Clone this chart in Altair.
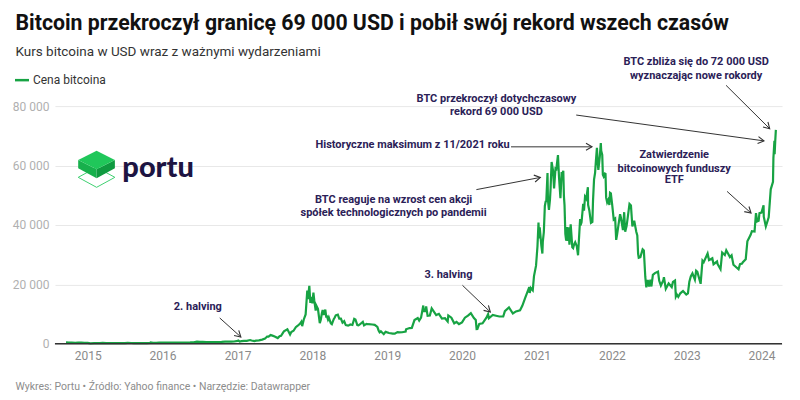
import math
import datetime as dt
import pandas as pd
import altair as alt

# ---------------- data ----------------
dates = [
    # 2014
    "2014-09-17", "2014-10-01", "2014-10-15", "2014-11-01", "2014-11-15", "2014-12-01", "2014-12-15",
    # 2015
    "2015-01-01", "2015-01-14", "2015-02-01", "2015-02-15", "2015-03-01", "2015-03-15", "2015-04-01",
    "2015-04-15", "2015-05-01", "2015-05-15", "2015-06-01", "2015-06-15", "2015-07-01", "2015-07-15",
    "2015-08-01", "2015-08-15", "2015-09-01", "2015-09-15", "2015-10-01", "2015-10-15", "2015-11-01",
    "2015-11-04", "2015-11-15", "2015-12-01", "2015-12-15",
    # 2016
    "2016-01-01", "2016-01-15", "2016-02-01", "2016-02-15", "2016-03-01", "2016-03-15", "2016-04-01",
    "2016-04-15", "2016-05-01", "2016-05-15", "2016-06-01", "2016-06-17", "2016-07-01", "2016-07-15",
    "2016-08-01", "2016-08-15", "2016-09-01", "2016-09-15", "2016-10-01", "2016-10-15", "2016-11-01",
    "2016-11-15", "2016-12-01", "2016-12-15",
    # 2017
    "2017-01-01", "2017-01-05", "2017-01-11", "2017-01-20", "2017-02-01", "2017-02-15", "2017-03-03",
    "2017-03-10", "2017-03-24", "2017-04-01", "2017-04-15", "2017-05-01", "2017-05-15", "2017-05-25",
    "2017-06-01", "2017-06-11", "2017-06-20", "2017-07-01", "2017-07-16", "2017-07-25", "2017-08-01",
    "2017-08-15", "2017-09-01", "2017-09-14", "2017-09-20", "2017-10-01", "2017-10-12", "2017-10-20",
    "2017-11-01", "2017-11-08", "2017-11-12", "2017-11-20", "2017-11-29", "2017-12-07", "2017-12-10",
    "2017-12-17", "2017-12-22", "2017-12-27",
    # 2018
    "2018-01-01", "2018-01-06", "2018-01-17", "2018-01-20", "2018-01-31", "2018-02-06", "2018-02-11",
    "2018-02-20", "2018-02-25", "2018-03-05", "2018-03-18", "2018-03-22", "2018-04-01", "2018-04-06",
    "2018-04-20", "2018-05-05", "2018-05-20", "2018-05-28", "2018-06-10", "2018-06-24", "2018-07-01",
    "2018-07-15", "2018-07-24", "2018-08-08", "2018-08-14", "2018-08-20", "2018-09-04", "2018-09-10",
    "2018-09-22", "2018-10-01", "2018-10-20", "2018-11-01", "2018-11-14", "2018-11-20", "2018-11-25",
    "2018-12-01", "2018-12-15", "2018-12-24",
    # 2019
    "2019-01-01", "2019-01-10", "2019-01-28", "2019-02-07", "2019-02-20", "2019-03-01", "2019-03-15",
    "2019-04-01", "2019-04-03", "2019-04-20", "2019-05-01", "2019-05-14", "2019-05-30", "2019-06-06",
    "2019-06-15", "2019-06-26", "2019-06-27", "2019-07-05", "2019-07-10", "2019-07-17", "2019-07-28",
    "2019-08-06", "2019-08-28", "2019-09-10", "2019-09-25", "2019-10-10", "2019-10-23", "2019-10-26",
    "2019-11-10", "2019-11-24", "2019-12-05", "2019-12-17",
    # 2020
    "2020-01-01", "2020-01-15", "2020-01-30", "2020-02-13", "2020-02-28", "2020-03-08", "2020-03-12",
    "2020-03-16", "2020-03-25", "2020-04-10", "2020-04-29", "2020-05-07", "2020-05-11", "2020-05-30",
    "2020-06-15", "2020-07-01", "2020-07-20", "2020-07-28", "2020-08-17", "2020-09-05", "2020-09-20",
    "2020-10-10", "2020-10-21", "2020-11-05", "2020-11-24", "2020-11-26", "2020-12-01", "2020-12-11",
    "2020-12-17", "2020-12-27",
    # 2021
    "2021-01-03", "2021-01-08", "2021-01-11", "2021-01-14", "2021-01-22", "2021-01-27", "2021-02-08",
    "2021-02-15", "2021-02-21", "2021-02-28", "2021-03-13", "2021-03-25", "2021-04-01", "2021-04-13",
    "2021-04-18", "2021-04-25", "2021-05-03", "2021-05-09", "2021-05-12", "2021-05-19", "2021-05-23",
    "2021-05-26", "2021-06-08", "2021-06-14", "2021-06-22", "2021-07-06", "2021-07-20", "2021-07-30",
    "2021-08-14", "2021-08-23", "2021-09-06", "2021-09-07", "2021-09-21", "2021-10-01", "2021-10-15",
    "2021-10-20", "2021-10-27", "2021-11-08", "2021-11-18", "2021-11-28", "2021-12-04", "2021-12-14",
    "2021-12-27",
    # 2022
    "2022-01-03", "2022-01-10", "2022-01-22", "2022-02-10", "2022-02-24", "2022-03-07", "2022-03-28",
    "2022-04-11", "2022-04-30", "2022-05-12", "2022-05-31", "2022-06-13", "2022-06-18", "2022-07-01",
    "2022-07-13", "2022-07-30", "2022-08-14", "2022-08-28", "2022-09-12", "2022-09-21", "2022-10-05",
    "2022-10-20", "2022-11-05", "2022-11-09", "2022-11-21", "2022-12-14", "2022-12-30",
    # 2023
    "2023-01-14", "2023-01-29", "2023-02-16", "2023-03-10", "2023-03-19", "2023-04-13", "2023-04-26",
    "2023-05-06", "2023-05-12", "2023-05-29", "2023-06-15", "2023-06-23", "2023-07-13", "2023-07-31",
    "2023-08-17", "2023-09-11", "2023-09-28", "2023-10-16", "2023-10-24", "2023-11-09", "2023-11-28",
    "2023-12-05", "2023-12-11", "2023-12-22",
    # 2024
    "2024-01-01", "2024-01-11", "2024-01-12", "2024-01-22", "2024-02-05", "2024-02-15", "2024-02-26",
    "2024-02-28", "2024-03-04", "2024-03-05", "2024-03-08", "2024-03-11",
]
prices = [
    # 2014
    457, 383, 395, 325, 376, 380, 350,
    # 2015
    314, 178, 226, 234, 260, 285, 247,
    220, 233, 237, 223, 236, 258, 286,
    281, 260, 228, 230, 238, 255, 325,
    490, 320, 360, 450,
    # 2016
    434, 375, 372, 407, 434, 416, 417,
    430, 451, 456, 537, 760, 677, 665,
    606, 567, 572, 607, 616, 640, 731,
    711, 756, 778,
    # 2017
    998, 1130, 777, 896, 990, 1011, 1275,
    1100, 937, 1080, 1180, 1420, 1740, 2450,
    2450, 2960, 2750, 2490, 1930, 2580, 2720,
    4190, 4890, 3150, 4000, 4400, 5600, 6000,
    6750, 7450, 5950, 8200, 9900, 17900, 15000,
    19500, 13800, 15800,
    # 2018
    13600, 17200, 11200, 12900, 10200, 6950, 8130,
    11400, 9700, 11500, 8200, 8900, 6900, 6600,
    8850, 9800, 8500, 7100, 6750, 6150, 6350,
    6350, 8400, 6300, 6200, 6500, 7400, 6200,
    6700, 6600, 6500, 6400, 5700, 4500, 3850,
    4200, 3250, 4050,
    # 2019
    3850, 3650, 3450, 3400, 3950, 3830, 3900,
    4150, 4900, 5300, 5350, 8000, 8700, 7800,
    8800, 12900, 11000, 11000, 12600, 9400, 9500,
    11900, 9700, 10100, 8500, 8600, 7500, 9550,
    8800, 6900, 7400, 6650,
    # 2020
    7200, 8800, 9500, 10350, 8700, 8050, 4970,
    5000, 6700, 6900, 8800, 9950, 8600, 9700,
    9450, 9200, 9200, 11000, 12250, 10200, 10900,
    11300, 12800, 15600, 19100, 17100, 18800, 18000,
    22800, 26300,
    # 2021
    32800, 40800, 35500, 39200, 33000, 30400, 46400,
    48000, 57500, 45100, 61200, 52300, 59000, 63500,
    56200, 49000, 57000, 58200, 49700, 37000, 34700,
    39300, 33400, 40200, 32500, 34200, 29800, 42000,
    47100, 49500, 52700, 46800, 40700, 48200, 61500,
    66000, 58500, 67550, 56900, 57300, 49200, 48400,
    50600,
    # 2022
    46500, 41800, 35000, 43600, 38300, 37700, 47100,
    39500, 37700, 29000, 31800, 22500, 19000, 19300,
    19300, 23800, 24300, 19600, 22400, 18500, 20300,
    19100, 21300, 15900, 15800, 17800, 16600,
    # 2023
    20900, 23700, 24600, 20200, 28000, 30400, 28400,
    28800, 26800, 27700, 25100, 30700, 31500, 29200,
    26600, 25100, 27000, 28500, 34500, 36700, 37800,
    44000, 41200, 44000,
    # 2024
    44200, 46600, 42800, 39500, 42600, 52000, 54500,
    62500, 68300, 63800, 68300, 72000,
]

# extra in-between readings (the picture's jagged daily moves)
extra_dates = [
    "2018-01-10", "2018-01-28", "2018-02-16", "2018-03-10", "2018-03-12", "2018-04-15", "2018-04-25",
    "2018-05-12", "2018-06-05", "2018-06-13", "2018-07-05", "2018-07-30",
    "2021-01-29", "2021-02-03", "2021-02-12", "2021-02-23", "2021-02-26", "2021-03-05", "2021-03-08",
    "2021-03-20", "2021-04-05", "2021-04-23", "2021-05-01", "2021-05-15", "2021-05-29", "2021-06-03",
    "2021-06-26", "2021-07-01", "2021-07-14", "2021-08-01", "2021-08-06", "2021-08-18", "2021-08-29",
    "2021-09-13", "2021-09-28", "2021-10-06", "2021-10-11", "2021-10-24", "2021-11-03", "2021-11-10",
    "2021-11-15", "2021-11-22", "2021-12-01", "2021-12-09", "2021-12-20", "2021-12-23",
    "2022-01-17", "2022-01-27", "2022-02-05", "2022-02-14", "2022-03-02", "2022-03-14", "2022-04-04",
    "2022-04-20", "2022-05-05", "2022-05-09", "2022-05-20", "2022-06-06", "2022-06-25", "2022-07-08",
    "2022-07-20", "2022-08-20", "2022-09-09", "2022-10-26", "2022-11-14", "2022-12-01",
    "2023-01-07", "2023-01-21", "2023-02-10", "2023-02-22", "2023-03-25", "2023-04-20", "2023-06-01",
    "2023-07-06", "2023-08-08", "2023-09-18", "2023-10-02", "2023-11-15", "2023-12-18",
]
extra_prices = [
    14700, 11800, 10200, 8800, 9500, 8300, 9600,
    8500, 7600, 6300, 6500, 8200,
    34300, 37600, 47900, 48800, 46300, 48500, 52300,
    58300, 58800, 51100, 57800, 46700, 34600, 39200,
    32200, 33500, 32800, 39900, 40900, 44800, 48800,
    44900, 41000, 55300, 57500, 61000, 62900, 65000,
    63600, 56300, 57200, 47600, 46700, 50800,
    42200, 37000, 41400, 42500, 44300, 39700, 46600,
    41400, 36500, 30300, 29200, 31400, 21500, 21600,
    23200, 21200, 21400, 20800, 16600, 17000,
    16950, 22700, 21600, 24200, 27500, 28200, 26800,
    29900, 29800, 26800, 27500, 37900, 41400,
]
assert len(dates) == len(prices)
assert len(extra_dates) == len(extra_prices)

y_ticks = [0, 20000, 40000, 60000, 80000]

# annotation texts (one row per text line), anchored in data units
ann_lines = [
    "2. halving",
    "3. halving",
    "BTC reaguje na wzrost cen akcji",
    "spółek technologicznych po pandemii",
    "Historyczne maksimum z 11/2021 roku",
    "BTC przekroczył dotychczasowy",
    "rekord 69 000 USD",
    "BTC zbliża się do 72 000 USD",
    "wyznaczając nowe rokordy",
    "Zatwierdzenie",
    "bitcoinowych funduszy",
    "ETF",
]
ann_dates = ["2016-06-21", "2019-10-27", "2019-02-01", "2019-02-01", "2019-05-05",
             "2020-06-17", "2020-06-17", "2023-02-16", "2023-02-16",
             "2022-11-01", "2022-11-01", "2022-11-01"]
ann_values = [12300, 23300, 48300, 44000, 67000, 82300, 78000, 94700, 90300, 63700, 59000, 55000]

# arrows: start -> end, in data units
arrow_x1 = ["2016-10-06", "2020-01-03", "2020-03-11", "2020-08-27", "2021-07-11", "2023-07-12", "2023-07-17"]
arrow_y1 = [8700, 19700, 51900, 66300, 77000, 87000, 51300]
arrow_x2 = ["2017-01-17", "2020-05-18", "2021-01-17", "2021-09-26", "2024-01-13", "2024-02-10", "2023-11-11"]
arrow_y2 = [2300, 10700, 56000, 66300, 68300, 72400, 44000]

# ---------------- styling ----------------
FONT = "Roboto"
GREEN = "#17a343"
NAVY = "#2b2157"
W, H = 728, 238
X_START = dt.date(2014, 7, 25)
X_END = dt.date(2024, 4, 10)
Y_MAX = 80000

px_per_day = W / (X_END - X_START).days
px_per_val = H / Y_MAX


def to_date(s):
    return dt.date.fromisoformat(s)


angles = []
for a, b, c, d in zip(arrow_x1, arrow_y1, arrow_x2, arrow_y2):
    dx = (to_date(c) - to_date(a)).days * px_per_day
    dy = -(d - b) * px_per_val
    angles.append(math.degrees(math.atan2(dy, dx)) % 360)

df = pd.DataFrame({"date": dates + extra_dates, "price": prices + extra_prices})
df = df.sort_values("date").reset_index(drop=True)
ann_df = pd.DataFrame({"date": ann_dates, "value": ann_values, "line": ann_lines})
arr_df = pd.DataFrame({"x1": arrow_x1, "y1": arrow_y1, "x2": arrow_x2, "y2": arrow_y2, "ang": angles})
one = pd.DataFrame({"k": [0]})

xscale = alt.Scale(type="utc", domain=[
    alt.DateTime(year=X_START.year, month=X_START.month, date=X_START.day, utc=True),
    alt.DateTime(year=X_END.year, month=X_END.month, date=X_END.day, utc=True)])
yscale = alt.Scale(domain=[0, Y_MAX], nice=False, zero=True)

x_axis = alt.Axis(format="%Y", tickCount=alt.TimeIntervalStep(interval="year", step=1),
                  grid=False, domain=False, ticks=False, labelColor="#8a8a8a",
                  labelFontSize=12, labelPadding=7, labelFont=FONT, title=None)
y_axis = alt.Axis(values=y_ticks, grid=True, gridColor="#e8e8e8", domain=False, ticks=False,
                  labelColor="#b0b0b0", labelFontSize=12, labelPadding=6, labelFont=FONT, title=None,
                  labelExpr="datum.value == 0 ? '0' : format(datum.value / 1000, 'd') + ' 000'")

line = alt.Chart(df).mark_line(color=GREEN, strokeWidth=2.2).encode(
    x=alt.X("date:T", scale=xscale, title=None, axis=x_axis),
    y=alt.Y("price:Q", scale=yscale, title=None, axis=y_axis),
)

baseline = alt.Chart(one).mark_rule(color="#333333", strokeWidth=1.5).encode(
    y=alt.datum(0, scale=yscale, title=None))

ann_text = alt.Chart(ann_df).mark_text(
    font=FONT, fontWeight="bold", fontSize=11, color=NAVY, align="center", baseline="middle"
).encode(
    x=alt.X("date:T", scale=xscale, title=None),
    y=alt.Y("value:Q", scale=yscale, title=None),
    text="line:N",
)

arrow_lines = alt.Chart(arr_df).mark_rule(color="#333333", strokeWidth=1).encode(
    x=alt.X("x1:T", scale=xscale, title=None), x2="x2:T",
    y=alt.Y("y1:Q", scale=yscale, title=None), y2="y2:Q",
)
arrow_heads = alt.Chart(arr_df).mark_point(
    shape="M-6,-3.5L0,0L-6,3.5", size=4, filled=False, stroke="#333333", strokeWidth=1.1, opacity=1
).encode(
    x=alt.X("x2:T", scale=xscale, title=None),
    y=alt.Y("y2:Q", scale=yscale, title=None),
    angle=alt.Angle("ang:Q", scale=None),
)


def txt(s, x, y, size, color, weight="normal", baseline="alphabetic", font=FONT, align="left"):
    return alt.Chart(one).mark_text(
        text=s, font=font, fontSize=size, fontWeight=weight, color=color, align=align, baseline=baseline
    ).encode(x=alt.value(x), y=alt.value(y))


title = txt("Bitcoin przekroczył granicę 69 000 USD i pobił swój rekord wszech czasów",
            -39.5, -76.7, 21.3, "#111111", weight="bold")
subtitle = txt("Kurs bitcoina w USD wraz z ważnymi wydarzeniami", -39.5, -50, 13.5, "#333333")
legend_line = alt.Chart(one).mark_rule(color=GREEN, strokeWidth=2.5).encode(
    x=alt.value(-40), x2=alt.value(-26), y=alt.value(-26))
legend_text = txt("Cena bitcoina", -22, -26, 12, "#333333", baseline="middle")
footer = txt("Wykres: Portu \u2022 Źródło: Yahoo finance \u2022 Narzędzie: Datawrapper",
             -39.6, 281, 10.5, "#8c8c8c", baseline="middle")

# logo
LX, LY = 41.7, 59


def shape(path, fill=None, stroke=None, sw=1):
    kw = dict(shape=path, size=4, opacity=1)
    if fill:
        kw.update(filled=True, fill=fill, strokeWidth=0)
    else:
        kw.update(filled=False, stroke=stroke, strokeWidth=sw)
    return alt.Chart(one).mark_point(**kw).encode(x=alt.value(LX), y=alt.value(LY))


logo = alt.layer(
    shape("M-18.4,12.3L0,2.3L18.3,12.3L0,22.3Z", stroke="#3fd070", sw=1),
    shape("M-18.4,-5L0,4.3L0,13.3L-18.4,3.3Z", fill="#17b04c"),
    shape("M0,4.3L18.3,-5L18.3,3.3L0,13.3Z", fill="#0f9a40"),
    shape("M-18.4,-5L0,-14.3L18.3,-5L0,4.3Z", fill="#20c75a"),
    txt("portu", 67.5, 70.7, 29, "#1d1442", weight=900, font="Lato"),
)

chart = alt.layer(
    line, baseline, arrow_lines, arrow_heads, ann_text,
    title, subtitle, legend_line, legend_text, footer, logo,
).properties(
    width=W, height=H,
    padding={"left": 47, "top": 98, "right": 10, "bottom": 54},
    autosize=alt.AutoSizeParams(type="none"),
    background="white",
).configure_view(stroke=None)

chart.save("out.html", embed_options={"renderer": "svg", "actions": False})
